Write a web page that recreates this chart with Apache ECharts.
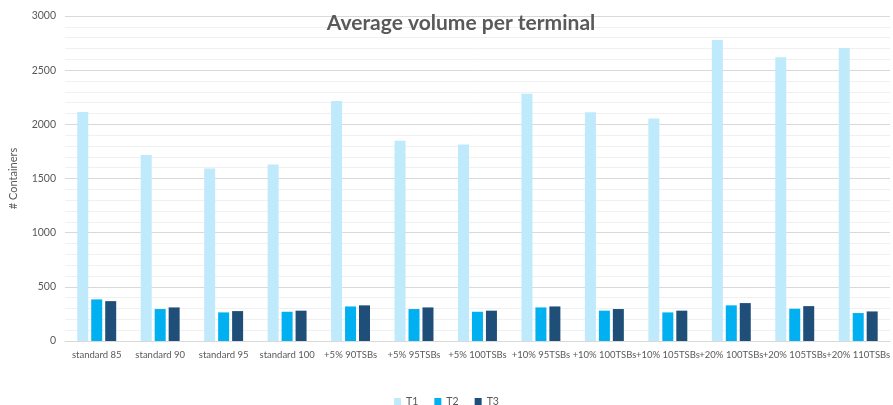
<!DOCTYPE html>
<html>
<head>
<meta charset="utf-8">
<script src="https://cdn.jsdelivr.net/npm/echarts@6/dist/echarts.min.js"></script>
<style>
  html, body { margin: 0; padding: 0; background: #fff; }
  #chart { width: 893px; height: 405px; }
</style>
</head>
<body>
<div id="chart"></div>
<script>
// Scenario labels along the x axis
const categories = [
  'standard 85', 'standard 90', 'standard 95', 'standard 100',
  '+5% 90TSBs', '+5% 95TSBs', '+5% 100TSBs',
  '+10% 95TSBs', '+10% 100TSBs', '+10% 105TSBs',
  '+20% 100TSBs', '+20% 105TSBs', '+20% 110TSBs'
];

// Average container volume per terminal
const t1 = [2115, 1718, 1592, 1630, 2215, 1848, 1815, 2283, 2112, 2055, 2778, 2619, 2705];
const t2 = [384, 295, 264, 270, 319, 295, 270, 310, 280, 264, 329, 298, 258];
const t3 = [368, 310, 276, 280, 329, 310, 280, 319, 295, 280, 350, 322, 273];

const seriesNames = ['T1', 'T2', 'T3'];
const seriesColors = ['#bfeafc', '#00b0f0', '#1f4e79'];

const textColor = '#595959';
const font = 'Lato, "Open Sans", sans-serif';

const chart = echarts.init(document.getElementById('chart'), null, { renderer: 'canvas' });

const values = [t1, t2, t3];

chart.setOption({
  animation: false,
  title: {
    text: 'Average volume per terminal',
    left: 456,
    textAlign: 'center',
    top: 8,
    textStyle: { color: textColor, fontSize: 21, fontWeight: 'bold', fontFamily: font }
  },
  legend: {
    data: seriesNames,
    top: 391,
    left: 'center',
    itemWidth: 7,
    itemHeight: 7,
    itemGap: 16,
    icon: 'rect',
    textStyle: { color: textColor, fontSize: 10.5, fontFamily: font }
  },
  grid: { left: 64, right: 0, top: 16, bottom: 64, containLabel: false },
  xAxis: {
    type: 'category',
    data: categories,
    axisLine: { lineStyle: { color: '#d9d9d9' } },
    axisTick: { show: false },
    axisLabel: { color: textColor, fontSize: 9.5, fontFamily: font, margin: 9, interval: 0 }
  },
  yAxis: {
    type: 'value',
    min: 0,
    max: 3000,
    interval: 500,
    name: '# Containers',
    nameLocation: 'middle',
    nameGap: 46,
    nameTextStyle: { color: textColor, fontSize: 11, fontFamily: font },
    axisLine: { show: false },
    axisTick: { show: false },
    axisLabel: { color: textColor, fontSize: 10.5, fontFamily: font, margin: 9, formatter: v => String(v) },
    splitLine: { lineStyle: { color: '#d9d9d9', width: 1 } },
    minorTick: { show: false, splitNumber: 5 },
    minorSplitLine: { show: true, lineStyle: { color: '#f0f0f0', width: 1 } }
  },
  series: seriesNames.map((name, i) => ({
    name: name,
    type: 'bar',
    data: values[i],
    barWidth: 11,
    barGap: '27%',
    itemStyle: { color: seriesColors[i] }
  }))
});
</script>
</body>
</html>
